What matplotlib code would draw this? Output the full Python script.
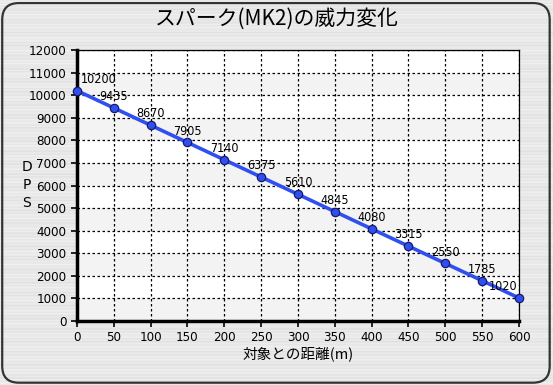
import numpy as np
import matplotlib
matplotlib.use("Agg")
import matplotlib.pyplot as plt
from matplotlib.patches import FancyBboxPatch

# data
distance = [0, 50, 100, 150, 200, 250, 300, 350, 400, 450, 500, 550, 600]
dps = [10200, 9435, 8670, 7905, 7140, 6375, 5610, 4845, 4080, 3315, 2550, 1785, 1020]
title = "スパーク(MK2)の威力変化"
xlabel = "対象との距離(m)"
ylabel = "DPS"
xticks = list(range(0, 601, 50))
yticks = list(range(0, 12001, 1000))

num_font = ["DejaVu Sans"]
jp_font = ["Noto Sans CJK JP", "DejaVu Sans"]

fig = plt.figure(figsize=(5.53, 3.85), dpi=100)

# brushed metal background (simple horizontal streak texture)
bg = fig.add_axes([0, 0, 1, 1], zorder=-10)
rows = np.arange(385)
shade = 0.91 + 0.015 * np.sin(rows * 1.91) + 0.012 * np.sin(rows * 0.53) + 0.008 * np.sin(rows * 3.7)
bg.imshow(np.tile(shade[:, None], (1, 20)), cmap="gray", vmin=0, vmax=1,
          aspect="auto", extent=[0, 1, 0, 1])
bg.set_xlim(0, 1)
bg.set_ylim(0, 1)
bg.axis("off")

# rounded frame
frame = FancyBboxPatch((0.004, 0.006), 0.99, 0.986,
                       boxstyle="round,pad=0,rounding_size=0.03",
                       transform=fig.transFigure, fill=False,
                       edgecolor="#333333", linewidth=1.6, mutation_aspect=553 / 385)
fig.patches.append(frame)

ax = fig.add_axes([0.1392, 0.1662, 0.7993, 0.7039])
ax.set_facecolor("white")

# alternating bands
for lo in range(0, 12000, 2000):
    ax.axhspan(lo, lo + 1000, color="#f3f3f3", zorder=0, linewidth=0)

ax.plot(distance, dps, color="#2f4ff0", linewidth=2.6, zorder=3,
        marker="o", markersize=6, markerfacecolor="#2f4ff0",
        markeredgecolor="#1a1a6a", markeredgewidth=0.9, clip_on=False)

for i, (x, y) in enumerate(zip(distance, dps)):
    if i == 0:
        ha, dx = "left", 3
    elif i == len(distance) - 1:
        ha, dx = "right", -1
    else:
        ha, dx = "center", 0
    ax.annotate(str(y), (x, y), xytext=(dx, 3.5), textcoords="offset points",
                fontsize=9, family=num_font, fontstretch="condensed",
                ha=ha, va="bottom", zorder=4)

ax.set_xlim(0, 600)
ax.set_ylim(0, 12000)
ax.set_xticks(xticks)
ax.set_yticks(yticks)
ax.grid(True, color="black", linestyle=(0, (2, 2)), linewidth=0.9, zorder=1)
ax.set_axisbelow(True)

for side in ["top", "right"]:
    ax.spines[side].set_linewidth(0.9)
for side in ["left", "bottom"]:
    ax.spines[side].set_linewidth(2.5)

ax.tick_params(axis="both", direction="out", length=4, width=1.2, labelsize=9.5)
for lab in ax.get_xticklabels() + ax.get_yticklabels():
    lab.set_family(num_font)
    lab.set_fontstretch("condensed")

fig.text(0.5, 0.952, title, ha="center", va="center", fontsize=15, family=jp_font)
fig.text(0.539, 0.08, xlabel, ha="center", va="center", fontsize=10.5, family=jp_font)
fig.text(0.048, 0.52, "\n".join(ylabel), ha="center", va="center", fontsize=10,
         family=num_font, linespacing=1.35)

fig.savefig("out.png", dpi=100)
